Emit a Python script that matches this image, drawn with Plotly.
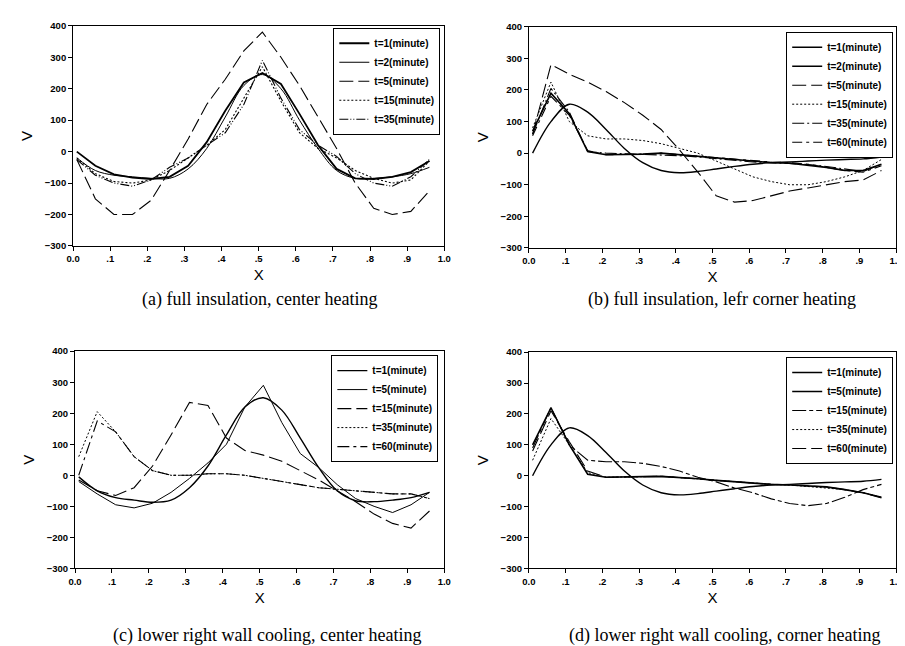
import plotly.graph_objects as go

x = [0.01, 0.06, 0.11, 0.16, 0.21, 0.26, 0.31, 0.36, 0.41, 0.46,
     0.51, 0.56, 0.61, 0.66, 0.71, 0.76, 0.81, 0.86, 0.91, 0.96]

# (a) full insulation, center heating
a_labels = ["t=1(minute)", "t=2(minute)", "t=5(minute)", "t=15(minute)", "t=35(minute)"]
a_t1 = [0, -45, -72, -83, -87, -80, -45, 30, 130, 220, 250, 215, 120, 20, -55, -85, -87, -80, -65, -30]
a_t2 = [-20, -60, -75, -80, -85, -85, -55, 10, 110, 210, 245, 200, 100, 10, -60, -85, -85, -80, -70, -50]
a_t5 = [-25, -150, -200, -200, -155, -60, 40, 150, 230, 320, 380, 300, 210, 110, 10, -100, -180, -200, -190, -125]
a_t15 = [-20, -70, -95, -100, -90, -60, -20, 20, 70, 170, 270, 160, 60, 10, -20, -60, -85, -100, -90, -30]
a_t35 = [-25, -75, -100, -110, -90, -50, -20, 20, 60, 150, 290, 170, 70, 20, -15, -70, -100, -110, -80, -25]

# (b) full insulation, left corner heating
b_labels = ["t=1(minute)", "t=2(minute)", "t=5(minute)", "t=15(minute)", "t=35(minute)", "t=60(minute)"]
b_t1 = [0, 100, 155, 130, 75, 15, -30, -55, -62, -58, -50, -42, -35, -30, -28, -25, -22, -20, -18, -12]
b_t2 = [70, 190, 125, 5, -5, -5, -3, 0, -5, -10, -15, -20, -25, -30, -32, -38, -45, -55, -55, -35]
b_t5 = [60, 280, 250, 225, 195, 160, 120, 75, 10, -60, -135, -155, -150, -135, -120, -110, -100, -90, -85, -55]
b_t15 = [80, 225, 100, 55, 45, 45, 40, 30, 15, 0, -25, -50, -75, -90, -100, -100, -90, -75, -55, -20]
b_t35 = [60, 205, 130, 5, 0, -2, -3, -4, -8, -12, -18, -24, -28, -30, -32, -36, -42, -50, -58, -35]
b_t60 = [55, 180, 120, 8, -5, -5, -3, 0, -5, -10, -15, -20, -25, -28, -30, -35, -45, -55, -60, -40]

# (c) lower right wall cooling, center heating
c_labels = ["t=1(minute)", "t=5(minute)", "t=15(minute)", "t=35(minute)", "t=60(minute)"]
c_t1 = [-5, -50, -72, -80, -87, -80, -40, 30, 130, 220, 250, 210, 120, 25, -50, -82, -85, -80, -72, -55]
c_t5 = [-20, -60, -95, -105, -90, -55, -10, 40, 100, 220, 290, 170, 70, 25, -30, -75, -100, -120, -95, -55]
c_t15 = [-15, -50, -65, -40, 30, 130, 235, 225, 120, 80, 65, 45, 15, -15, -50, -85, -125, -155, -170, -115]
c_t35 = [60, 205, 140, 60, 15, 0, 0, 5, 5, 0, -10, -20, -30, -40, -45, -50, -55, -60, -60, -75]
c_t60 = [0, 175, 140, 60, 15, 0, 0, 5, 5, 0, -10, -20, -30, -40, -45, -50, -55, -60, -60, -75]

# (d) lower right wall cooling, corner heating
d_labels = ["t=1(minute)", "t=5(minute)", "t=15(minute)", "t=35(minute)", "t=60(minute)"]
d_t1 = [0, 100, 155, 130, 75, 15, -30, -55, -62, -58, -50, -42, -35, -30, -28, -25, -22, -20, -18, -12]
d_t5 = [100, 220, 100, 5, -5, -5, -3, -2, -5, -10, -15, -20, -25, -28, -30, -33, -36, -45, -55, -70]
d_t15 = [90, 220, 100, 50, 45, 45, 40, 30, 15, -5, -20, -40, -55, -75, -90, -97, -90, -70, -45, -28]
d_t35 = [50, 185, 100, 10, -5, -5, -3, -2, -5, -10, -15, -20, -25, -28, -30, -35, -38, -45, -55, -70]
d_t60 = [80, 210, 110, 15, -5, -5, -3, -2, -5, -10, -15, -20, -25, -28, -30, -33, -36, -45, -55, -72]

y_ticks = [-300, -200, -100, 0, 100, 200, 300, 400]
x_ticks = [0.0, 0.1, 0.2, 0.3, 0.4, 0.5, 0.6, 0.7, 0.8, 0.9, 1.0]
x_ticklabels = ["0.0", ".1", ".2", ".3", ".4", ".5", ".6", ".7", ".8", ".9", "1.0"]

LD = "14px,5px"
panels = [
    ("x", "y", "legend", a_labels, [a_t1, a_t2, a_t5, a_t15, a_t35],
     [("solid", 1.8, "linear"), ("solid", 1.0, "spline"), (LD, 1.1, "linear"),
      ("2px,2px", 1.1, "linear"), ("9px,2px,1px,2px,1px,2px", 1.1, "linear")]),
    ("x2", "y2", "legend2", b_labels, [b_t1, b_t2, b_t5, b_t15, b_t35, b_t60],
     [("solid", 1.4, "spline"), ("solid", 1.6, "linear"), (LD, 1.1, "linear"),
      ("2px,2px", 1.0, "linear"), ("12px,3px,2px,3px", 1.1, "linear"), ("10px,4px,3px,4px", 1.1, "linear")]),
    ("x3", "y3", "legend3", c_labels, [c_t1, c_t5, c_t15, c_t35, c_t60],
     [("solid", 1.4, "spline"), ("solid", 1.0, "linear"), (LD, 1.1, "linear"),
      ("2px,2px", 1.0, "linear"), ("12px,4px,3px,4px", 1.1, "linear")]),
    ("x4", "y4", "legend4", d_labels, [d_t1, d_t5, d_t15, d_t35, d_t60],
     [("solid", 1.4, "spline"), ("solid", 1.6, "linear"), ("14px,3px,4px,3px", 1.1, "linear"),
      ("2px,2px", 1.0, "linear"), (LD, 1.1, "linear")]),
]

fig = go.Figure()
for xa, ya, lg, labels, series, styles in panels:
    for lab, ys, (dash, w, shape) in zip(labels, series, styles):
        fig.add_trace(go.Scatter(
            x=x, y=ys, mode="lines", name=lab, xaxis=xa, yaxis=ya, legend=lg,
            line=dict(color="black", width=w, dash=dash, shape=shape, smoothing=1.0),
        ))

W, H = 905, 646
def px_dom(a, b, total):
    return [a / total, b / total]
def py_dom(top, bottom):
    return [1 - bottom / H, 1 - top / H]

doms = {
    "": (px_dom(59, 436, W), py_dom(12, 236)),
    "2": (px_dom(522, 895, W), py_dom(13, 238)),
    "3": (px_dom(61, 436, W), py_dom(343, 564)),
    "4": (px_dom(522, 895, W), py_dom(344, 564)),
}

tickfont = dict(family="Liberation Sans, Arial", size=9.5, color="black", weight="bold")
titlefont = dict(family="Liberation Sans, Arial", size=15, color="black")
layout = dict(
    width=W, height=H, margin=dict(l=0, r=0, t=0, b=0),
    paper_bgcolor="white", plot_bgcolor="white", showlegend=True,
)
for k, (xd, yd) in doms.items():
    anchor_y = "y" + k
    anchor_x = "x" + k
    layout["xaxis" + k] = dict(
        domain=xd, anchor=anchor_y, range=[0, 1.0], tickvals=x_ticks, ticktext=x_ticklabels,
        showline=True, linecolor="black", linewidth=1, mirror=True, ticks="outside",
        ticklen=4, tickcolor="black", showgrid=False, zeroline=False, tickfont=tickfont,
        ticklabeloverflow="allow",
        title=dict(text="X", font=titlefont, standoff=6),
    )
    layout["yaxis" + k] = dict(
        domain=yd, anchor=anchor_x, range=[-300, 400], tickvals=y_ticks,
        showline=True, linecolor="black", linewidth=1, mirror=True, ticks="outside",
        ticklen=4, tickcolor="black", showgrid=False, zeroline=False, tickfont=tickfont,
        title=dict(text="V", font=titlefont, standoff=8),
    )

legfont = dict(family="Liberation Sans, Arial", size=10, color="black", weight="bold")
leg_pos = {
    "legend": (432, 14),
    "legend2": (892, 18),
    "legend3": (430, 347),
    "legend4": (892, 349),
}
for name, (rx, ty) in leg_pos.items():
    layout[name] = dict(
        x=rx / W, y=1 - ty / H, xanchor="right", yanchor="top", xref="paper", yref="paper",
        bgcolor="white", bordercolor="black", borderwidth=1, font=legfont,
        tracegroupgap=0, itemwidth=30,
    )

fig.update_layout(**layout)

captions = [
    ("(a) full insulation, center heating", 248, 290),
    ("(b) full insulation, lefr corner heating", 718, 290),
    ("(c) lower right wall cooling, center heating", 256, 632),
    ("(d) lower right wall cooling, corner heating", 721, 632),
]
for text, cx, cy in captions:
    fig.add_annotation(
        text=text, x=cx / W, y=1 - cy / H, xref="paper", yref="paper",
        showarrow=False, xanchor="center", yanchor="middle",
        font=dict(family="Liberation Serif, Times New Roman", size=18, color="black"),
    )

fig.write_html("out.html")
